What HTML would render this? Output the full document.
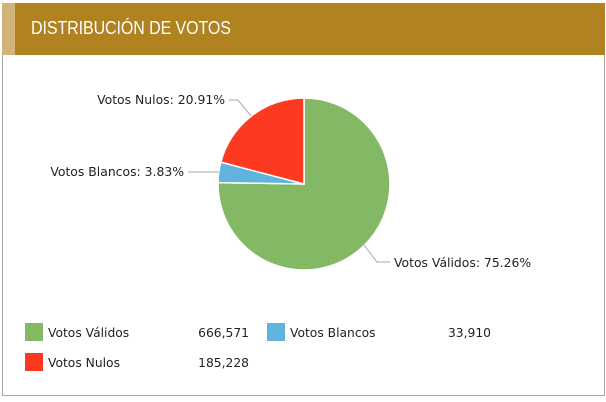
<!DOCTYPE html>
<html><head><meta charset="utf-8"><style>
body{margin:0;width:606px;height:402px;background:#fff;position:relative;font-family:"DejaVu Sans","Liberation Sans",sans-serif;overflow:hidden}
.hdr{position:absolute;left:2px;top:3px;width:603px;height:52px;background:#b08220}
.strip{position:absolute;left:2px;top:3px;width:13px;height:52px;background:#d2b47a}
.title{position:absolute;left:31px;top:18px;color:#fff;font-size:18px;letter-spacing:-0.1px;font-family:"Liberation Sans",sans-serif;transform:scaleX(0.89);transform-origin:left;white-space:nowrap}
.box{position:absolute;left:2px;top:55px;width:601px;height:340px;border:1px solid #a8a8a8;border-top:none}
.lg{position:absolute;font-size:12.3px;color:#222}
.sq{position:absolute;width:18px;height:18px}
</style></head><body>
<div class="hdr"></div><div class="strip"></div>
<div class="title">DISTRIBUCIÓN DE VOTOS</div>
<div class="box"></div>
<svg width="606" height="402" style="position:absolute;left:0;top:0">
<g stroke="#fff" stroke-width="1.5">
<path d="M304,184 L304,98 A86,86 0 1,1 218.01,182.59 Z" fill="#83b865"/>
<path d="M304,184 L218.01,182.59 A86,86 0 0,1 220.82,162.15 Z" fill="#5fb3dd"/>
<path d="M304,184 L220.82,162.15 A86,86 0 0,1 304,98 Z" fill="#fc3a22"/>
</g>
<g fill="none" stroke="#aaa" stroke-width="1">
<path d="M229,100 L238,100 L251,116"/>
<path d="M188,172 L207,172 L219,172"/>
<path d="M364,245 L377,262 L390,262"/>
</g>
<g font-size="12.4" fill="#222" font-family="DejaVu Sans, sans-serif">
<text x="225" y="104" text-anchor="end">Votos Nulos: 20.91%</text>
<text x="184" y="176" text-anchor="end">Votos Blancos: 3.83%</text>
<text x="394" y="267">Votos Válidos: 75.26%</text>
</g>
</svg>
<div class="sq" style="left:25px;top:323px;background:#83b865"></div>
<div class="lg" style="left:48px;top:326px">Votos Válidos</div>
<div class="lg" style="left:150px;width:99px;text-align:right;top:326px">666,571</div>
<div class="sq" style="left:267px;top:323px;background:#5fb3dd"></div>
<div class="lg" style="left:290px;top:326px">Votos Blancos</div>
<div class="lg" style="left:390px;width:101px;text-align:right;top:326px">33,910</div>
<div class="sq" style="left:25px;top:353px;background:#fc3a22"></div>
<div class="lg" style="left:48px;top:356px">Votos Nulos</div>
<div class="lg" style="left:150px;width:99px;text-align:right;top:356px">185,228</div>
</body></html>
